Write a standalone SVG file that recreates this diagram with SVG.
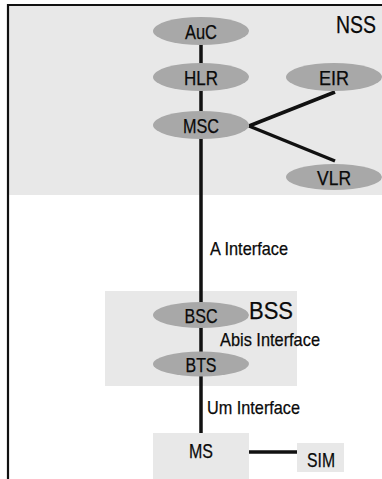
<svg xmlns="http://www.w3.org/2000/svg" width="382" height="479" viewBox="0 0 382 479">
<style>
.region{fill:#e8e8e8;stroke:none}
.node ellipse{fill:#a8a8a8;stroke:none}
.box{fill:#e8e8e8;stroke:none}
text{font-family:"Liberation Sans",Arial,sans-serif;fill:#0a0a0a;stroke:#0a0a0a;stroke-width:0.25}
.lbl{font-size:20px;text-anchor:middle}
.big{font-size:23px}
.if{font-size:18.5px}
.conn line{stroke:#111;stroke-width:3.5;stroke-linecap:butt}
</style>
<rect width="382" height="479" fill="#ffffff"/>
<g id="NSS">
<rect class="region" x="9" y="6" width="373" height="189"/>
<text class="big" x="336" y="33" textLength="40" lengthAdjust="spacingAndGlyphs">NSS</text>
</g>
<g id="BSS">
<rect class="region" x="105" y="291" width="192" height="95"/>
<text class="big" x="249" y="319" textLength="44" lengthAdjust="spacingAndGlyphs">BSS</text>
</g>
<path d="M8,479 V5 H382" fill="none" stroke="#111" stroke-width="2.2"/>
<g class="conn" id="connectors">
<line x1="201" y1="40" x2="201" y2="434"/>
<line x1="249" y1="126" x2="335" y2="92" stroke-width="3"/>
<line x1="249" y1="126" x2="335" y2="161" stroke-width="3"/>
<line x1="248" y1="452" x2="297" y2="452" stroke-width="3"/>
</g>
<g id="A_Interface"><text class="if" x="210" y="255" textLength="78" lengthAdjust="spacingAndGlyphs">A Interface</text></g>
<g id="Abis_Interface"><text class="if" x="220" y="346" textLength="100" lengthAdjust="spacingAndGlyphs">Abis Interface</text></g>
<g id="Um_Interface"><text class="if" x="207" y="414" textLength="93" lengthAdjust="spacingAndGlyphs">Um Interface</text></g>
<g class="node" id="AuC"><ellipse cx="201" cy="31" rx="48" ry="14"/><text class="lbl" x="201" y="39" textLength="32" lengthAdjust="spacingAndGlyphs">AuC</text></g>
<g class="node" id="HLR"><ellipse cx="201" cy="77" rx="48" ry="14"/><text class="lbl" x="201" y="85" textLength="34" lengthAdjust="spacingAndGlyphs">HLR</text></g>
<g class="node" id="MSC"><ellipse cx="201" cy="125" rx="48" ry="14"/><text class="lbl" x="201" y="133" textLength="36" lengthAdjust="spacingAndGlyphs">MSC</text></g>
<g class="node" id="EIR"><ellipse cx="334" cy="77" rx="48" ry="14"/><text class="lbl" x="334" y="85" textLength="30" lengthAdjust="spacingAndGlyphs">EIR</text></g>
<g class="node" id="VLR"><ellipse cx="334" cy="177" rx="48" ry="13"/><text class="lbl" x="334" y="185" textLength="34" lengthAdjust="spacingAndGlyphs">VLR</text></g>
<g class="node" id="BSC"><ellipse cx="201" cy="315" rx="48" ry="13"/><text class="lbl" x="201" y="323" textLength="33" lengthAdjust="spacingAndGlyphs">BSC</text></g>
<g class="node" id="BTS"><ellipse cx="201" cy="364" rx="48" ry="12.5"/><text class="lbl" x="201" y="372" textLength="31" lengthAdjust="spacingAndGlyphs">BTS</text></g>
<g id="MS"><rect class="box" x="153" y="433" width="96" height="46"/><text class="lbl" x="201" y="458" textLength="24" lengthAdjust="spacingAndGlyphs">MS</text></g>
<g id="SIM"><rect class="box" x="297" y="443" width="47" height="29"/><text class="lbl" x="321" y="467" textLength="28" lengthAdjust="spacingAndGlyphs">SIM</text></g>
</svg>
